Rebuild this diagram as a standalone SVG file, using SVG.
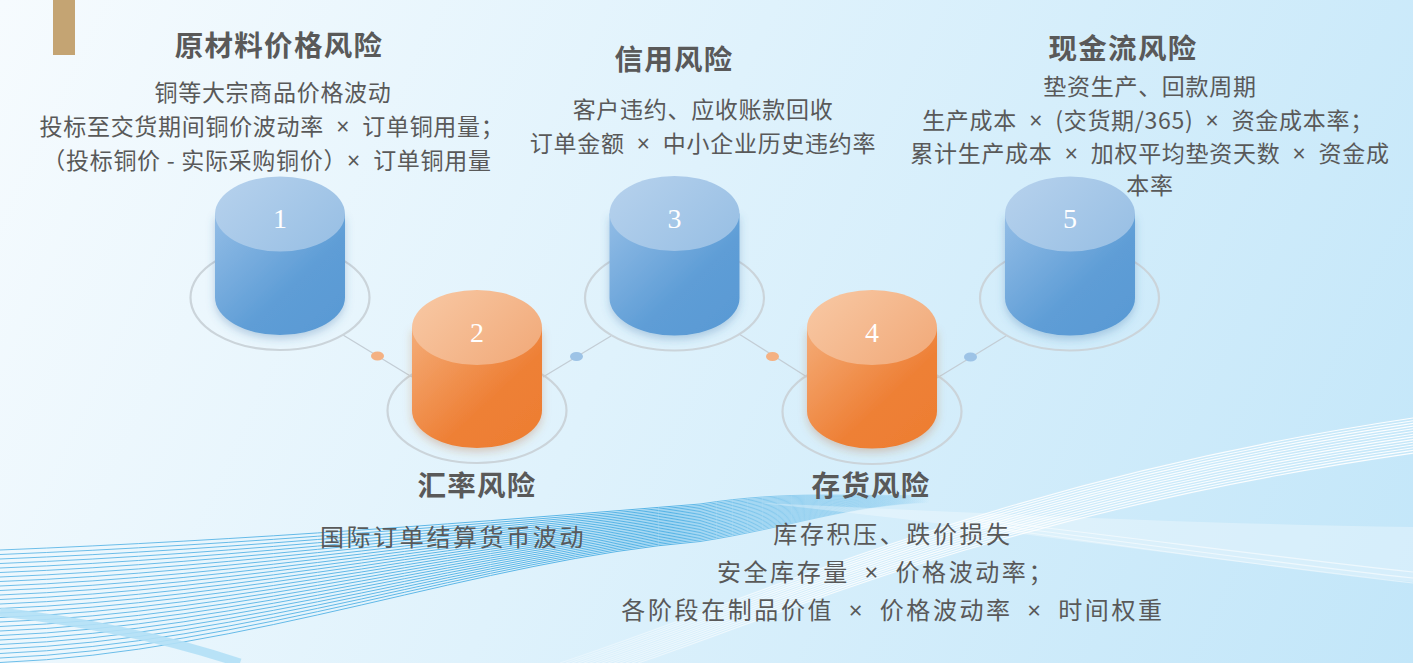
<svg xmlns="http://www.w3.org/2000/svg" width="1413" height="663" viewBox="0 0 1413 663">
<defs>
<linearGradient id="bg" x1="0" y1="0" x2="1413" y2="663" gradientUnits="userSpaceOnUse">
<stop offset="0" stop-color="#f6fbfe"/>
<stop offset="0.45" stop-color="#dff2fc"/>
<stop offset="1" stop-color="#c2e6f9"/>
</linearGradient>
<linearGradient id="blueBody" x1="0" y1="0" x2="1" y2="1">
<stop offset="0" stop-color="#93bde6"/>
<stop offset="0.6" stop-color="#5e9dd6"/>
<stop offset="1" stop-color="#5899d4"/>
</linearGradient>
<linearGradient id="blueTop" x1="0" y1="0" x2="1" y2="0.6">
<stop offset="0" stop-color="#b7d2ed"/>
<stop offset="1" stop-color="#9bc1e5"/>
</linearGradient>
<linearGradient id="orBody" x1="0" y1="0" x2="1" y2="1">
<stop offset="0" stop-color="#f4ac78"/>
<stop offset="0.6" stop-color="#ee8036"/>
<stop offset="1" stop-color="#ed7d31"/>
</linearGradient>
<linearGradient id="orTop" x1="0" y1="0" x2="1" y2="0.6">
<stop offset="0" stop-color="#f8c9a5"/>
<stop offset="1" stop-color="#f2ad7e"/>
</linearGradient>
<linearGradient id="blueWave" x1="0" y1="0" x2="930" y2="0" gradientUnits="userSpaceOnUse">
<stop offset="0" stop-color="#4fb0e4" stop-opacity="0.8"/>
<stop offset="0.72" stop-color="#4fb0e4" stop-opacity="0.95"/>
<stop offset="1" stop-color="#4fb0e4" stop-opacity="0"/>
</linearGradient>
<linearGradient id="whiteWave" x1="500" y1="0" x2="1413" y2="0" gradientUnits="userSpaceOnUse">
<stop offset="0" stop-color="#ffffff" stop-opacity="0.2"/>
<stop offset="0.4" stop-color="#ffffff" stop-opacity="0.85"/>
<stop offset="1" stop-color="#ffffff" stop-opacity="0.95"/>
</linearGradient>
<filter id="shB" x="-30%" y="-30%" width="160%" height="170%">
<feDropShadow dx="0" dy="4" stdDeviation="4" flood-color="#3a6ea5" flood-opacity="0.3"/>
</filter>
<filter id="shO" x="-30%" y="-30%" width="160%" height="170%">
<feDropShadow dx="0" dy="4" stdDeviation="4" flood-color="#b8652a" flood-opacity="0.3"/>
</filter>
<style>
.ring{fill:none;stroke:#cbd4da;stroke-width:2.2}
.conn{stroke:#c3cdd5;stroke-width:1.3;fill:none}
.num{font-family:"Liberation Serif","DejaVu Serif",serif;font-size:28px;fill:#ffffff;text-anchor:middle}
.title{font-family:"Noto Sans CJK SC","Noto Sans",sans-serif;font-weight:bold;font-size:28.5px;letter-spacing:1.3px;fill:#595959;text-anchor:middle}
.desc{font-family:"Noto Sans CJK SC","Noto Sans",sans-serif;font-size:23px;letter-spacing:0.7px;fill:#595959;text-anchor:middle}
.descb{font-family:"Noto Sans CJK SC","Noto Sans",sans-serif;font-size:24px;letter-spacing:2.6px;fill:#595959;text-anchor:middle}
.x{font-family:"Noto Sans","DejaVu Sans",sans-serif}
.bw{fill:none;stroke:url(#blueWave);stroke-width:1}
.ww{fill:none;stroke:url(#whiteWave);stroke-width:1.1}
</style>
</defs>
<rect x="0" y="0" width="1413" height="663" fill="url(#bg)"/>
<g id="waves">
<path class="bw" d="M0,550 C250,540 480,522 700,504 C790,490 850,497 930,495"/>
<path class="bw" d="M0,554.5 C250,544.5 480,523.5 700,505.5 C790,491.5 850,497.3 930,495.3"/>
<path class="bw" d="M0,559 C250,549 480,525 700,507 C790,493 850,497.6 930,495.6"/>
<path class="bw" d="M0,563.5 C250,553.5 480,526.5 700,508.5 C790,494.5 850,497.9 930,495.9"/>
<path class="bw" d="M0,568 C250,558 480,528 700,510 C790,496 850,498.2 930,496.2"/>
<path class="bw" d="M0,572.5 C250,562.5 480,529.5 700,511.5 C790,497.5 850,498.5 930,496.5"/>
<path class="bw" d="M0,577 C250,567 480,531 700,513 C790,499 850,498.8 930,496.8"/>
<path class="bw" d="M0,581.5 C250,571.5 480,532.5 700,514.5 C790,500.5 850,499.1 930,497.1"/>
<path class="bw" d="M0,586 C250,576 480,534 700,516 C790,502 850,499.4 930,497.4"/>
<path class="bw" d="M0,590.5 C250,580.5 480,535.5 700,517.5 C790,503.5 850,499.7 930,497.7"/>
<path class="bw" d="M0,595 C250,585 480,537 700,519 C790,505 850,500 930,498"/>
<path class="bw" d="M0,599.5 C250,589.5 480,538.5 700,520.5 C790,506.5 850,500.3 930,498.3"/>
<path class="bw" d="M0,604 C250,594 480,540 700,522 C790,508 850,500.6 930,498.6"/>
<path class="bw" d="M0,608.5 C250,598.5 480,541.5 700,523.5 C790,509.5 850,500.9 930,498.9"/>
<path class="bw" d="M0,613 C250,603 480,543 700,525 C790,511 850,501.2 930,499.2"/>
<path class="bw" d="M0,617.5 C250,607.5 480,544.5 700,526.5 C790,512.5 850,501.5 930,499.5"/>
<path class="bw" d="M0,622 C250,612 480,546 700,528 C790,514 850,501.8 930,499.8"/>
<path class="bw" d="M0,626.5 C250,616.5 480,547.5 700,529.5 C790,515.5 850,502.1 930,500.1"/>
<path class="bw" d="M0,631 C250,621 480,549 700,531 C790,517 850,502.4 930,500.4"/>
<path class="bw" d="M0,635.5 C250,625.5 480,550.5 700,532.5 C790,518.5 850,502.7 930,500.7"/>
<path class="bw" d="M0,640 C250,630 480,552 700,534 C790,520 850,503 930,501"/>
<path class="bw" d="M0,644.5 C250,634.5 480,553.5 700,535.5 C790,521.5 850,503.3 930,501.3"/>
<path class="bw" d="M0,649 C250,639 480,555 700,537 C790,523 850,503.6 930,501.6"/>
<path class="bw" d="M0,653.5 C250,643.5 480,556.5 700,538.5 C790,524.5 850,503.9 930,501.9"/>
<path class="bw" d="M0,658 C250,648 480,558 700,540 C790,526 850,504.2 930,502.2"/>
<path class="bw" d="M0,662.5 C250,652.5 480,559.5 700,541.5 C790,527.5 850,504.5 930,502.5"/>
<path d="M0,612 C90,622 170,640 240,663" fill="none" stroke="#b3e0f6" stroke-width="9" opacity="0.9"/>
<path d="M760,503 C1000,514 1200,524 1413,527 L1413,582 C1200,560 1000,528 760,503 Z" fill="#ffffff" opacity="0.3"/>
<path class="ww" d="M980,520 C1150,540 1300,560 1413,572" opacity="0.6"/>
<path class="ww" d="M980,523 C1150,545 1300,566 1413,578" opacity="0.6"/>
<path class="ww" d="M980,526 C1150,550 1300,570 1413,583" opacity="0.5"/>
<path class="ww" d="M560,663 C780,590 1000,480 1413,418"/>
<path class="ww" d="M566,663 C780,592 1000,482.5 1413,420.7"/>
<path class="ww" d="M572,663 C780,594 1000,485 1413,423.4"/>
<path class="ww" d="M578,663 C780,596 1000,487.5 1413,426.1"/>
<path class="ww" d="M584,663 C780,598 1000,490 1413,428.8"/>
<path class="ww" d="M590,663 C780,600 1000,492.5 1413,431.5"/>
<path class="ww" d="M596,663 C780,602 1000,495 1413,434.2"/>
<path class="ww" d="M602,663 C780,604 1000,497.5 1413,436.9"/>
<path class="ww" d="M608,663 C780,606 1000,500 1413,439.6"/>
<path class="ww" d="M614,663 C780,608 1000,502.5 1413,442.3"/>
<path class="ww" d="M620,663 C780,610 1000,505 1413,445"/>
<path class="ww" d="M626,663 C780,612 1000,507.5 1413,447.7"/>
<path class="ww" d="M632,663 C780,614 1000,510 1413,450.4"/>
<path class="ww" d="M638,663 C780,616 1000,512.5 1413,453.1"/>
</g>
<rect id="accent" x="53" y="0" width="22" height="55" fill="#c4a473"/>
<g id="connectors">
<line class="conn" x1="343" y1="335" x2="412" y2="377"/>
<line class="conn" x1="543" y1="377" x2="611" y2="336"/>
<line class="conn" x1="739" y1="334" x2="807" y2="377"/>
<line class="conn" x1="937" y1="378" x2="1006" y2="336"/>
<ellipse cx="377.5" cy="356" rx="6.5" ry="4.5" fill="#f4b183"/>
<ellipse cx="576.5" cy="356.5" rx="6.5" ry="4.5" fill="#9dc3e6"/>
<ellipse cx="772.5" cy="356.5" rx="6.5" ry="4.5" fill="#f4b183"/>
<ellipse cx="970.5" cy="357" rx="6.5" ry="4.5" fill="#9dc3e6"/>
</g>
<g id="node1">
<ellipse class="ring" cx="280" cy="297.5" rx="89.5" ry="52.5"/>
<path d="M215,214 L215,297.5 A65,37.5 0 0 0 345,297.5 L345,214 Z" fill="url(#blueBody)" filter="url(#shB)"/>
<ellipse cx="280" cy="214" rx="65" ry="37.5" fill="url(#blueTop)"/>
<text class="num" x="280" y="228">1</text>
<text class="title" x="279" y="56">原材料价格风险</text>
<text class="desc" x="273" y="101">铜等大宗商品价格波动</text>
<text class="desc" x="272" y="135">投标至交货期间铜价波动率&#8194;<tspan class="x">×</tspan>&#8194;订单铜用量；</text>
<text class="desc" x="267" y="169">（投标铜价 - 实际采购铜价）<tspan class="x">×</tspan>&#8194;订单铜用量</text>
</g>
<g id="node2">
<ellipse class="ring" cx="477" cy="410.5" rx="89.5" ry="52.5"/>
<path d="M412,327.5 L412,410.5 A65,37.5 0 0 0 542,410.5 L542,327.5 Z" fill="url(#orBody)" filter="url(#shO)"/>
<ellipse cx="477" cy="327.5" rx="65" ry="37.5" fill="url(#orTop)"/>
<text class="num" x="477" y="341.5">2</text>
<text class="title" x="477" y="496">汇率风险</text>
<text class="descb" x="453" y="546">国际订单结算货币波动</text>
</g>
<g id="node3">
<ellipse class="ring" cx="674.5" cy="298" rx="89.5" ry="52.5"/>
<path d="M609.5,213.5 L609.5,298 A65,37.5 0 0 0 739.5,298 L739.5,213.5 Z" fill="url(#blueBody)" filter="url(#shB)"/>
<ellipse cx="674.5" cy="213.5" rx="65" ry="37.5" fill="url(#blueTop)"/>
<text class="num" x="674.5" y="227.5">3</text>
<text class="title" x="674" y="70">信用风险</text>
<text class="desc" x="703" y="118">客户违约、应收账款回收</text>
<text class="desc" x="703" y="152">订单金额&#8194;<tspan class="x">×</tspan>&#8194;中小企业历史违约率</text>
</g>
<g id="node4">
<ellipse class="ring" cx="872" cy="411.5" rx="89.5" ry="52.5"/>
<path d="M807,327.5 L807,411 A65,37.5 0 0 0 937,411 L937,327.5 Z" fill="url(#orBody)" filter="url(#shO)"/>
<ellipse cx="872" cy="327.5" rx="65" ry="37.5" fill="url(#orTop)"/>
<text class="num" x="872" y="341.5">4</text>
<text class="title" x="871" y="496">存货风险</text>
<text class="descb" x="893" y="543">库存积压、跌价损失</text>
<text class="descb" x="886" y="581">安全库存量&#8194;<tspan class="x">×</tspan>&#8194;价格波动率；</text>
<text class="descb" x="893" y="619">各阶段在制品价值&#8194;<tspan class="x">×</tspan>&#8194;价格波动率&#8194;<tspan class="x">×</tspan>&#8194;时间权重</text>
</g>
<g id="node5">
<ellipse class="ring" cx="1069.5" cy="298" rx="89.5" ry="52.5"/>
<path d="M1005,214 L1005,298 A65,37.5 0 0 0 1135,298 L1135,214 Z" fill="url(#blueBody)" filter="url(#shB)"/>
<ellipse cx="1070" cy="214" rx="65" ry="37.5" fill="url(#blueTop)"/>
<text class="num" x="1070" y="228">5</text>
<text class="title" x="1123" y="59">现金流风险</text>
<text class="desc" x="1150" y="95">垫资生产、回款周期</text>
<text class="desc" x="1148" y="129">生产成本&#8194;<tspan class="x">×</tspan>&#8194;(交货期/365)&#8194;<tspan class="x">×</tspan>&#8194;资金成本率；</text>
<text class="desc" x="1150" y="162">累计生产成本&#8194;<tspan class="x">×</tspan>&#8194;加权平均垫资天数&#8194;<tspan class="x">×</tspan>&#8194;资金成</text>
<text class="desc" x="1150" y="194">本率</text>
</g>
</svg>
